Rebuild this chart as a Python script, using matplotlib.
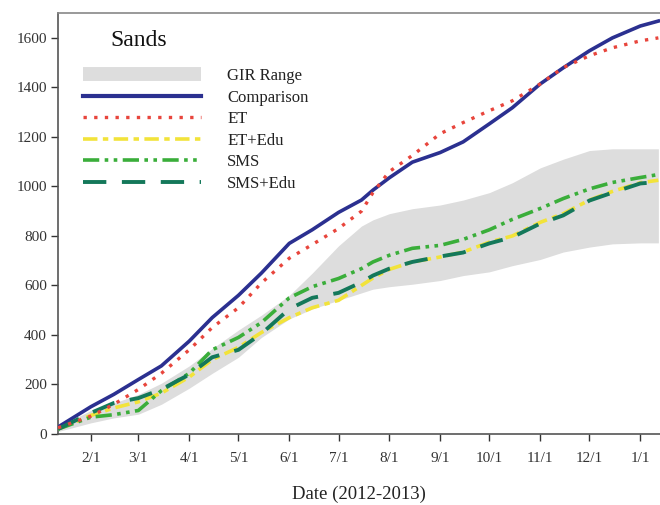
import matplotlib
matplotlib.use("Agg")
import matplotlib.pyplot as plt
import matplotlib.dates as mdates
from matplotlib.lines import Line2D
from matplotlib.ticker import FuncFormatter
import datetime as dt

plt.rcParams['font.family'] = ['Liberation Serif', 'DejaVu Serif']

dates = ["2012-01-12", "2012-02-01", "2012-02-15", "2012-03-01", "2012-03-15",
         "2012-04-01", "2012-04-15", "2012-05-01", "2012-05-15", "2012-06-01",
         "2012-06-15", "2012-07-01", "2012-07-15", "2012-07-22", "2012-08-01",
         "2012-08-15", "2012-09-01", "2012-09-15", "2012-10-01", "2012-10-15",
         "2012-11-01", "2012-11-15", "2012-12-01", "2012-12-15", "2013-01-01",
         "2013-01-12"]

gir_low  = [10, 45, 65, 80, 120, 185, 245, 310, 390, 465, 505, 540, 570, 585, 595,
            605, 620, 640, 655, 680, 705, 735, 755, 768, 772, 772]
gir_high = [30, 95, 125, 160, 205, 275, 345, 420, 480, 560, 650, 760, 840, 865, 890,
            910, 925, 945, 975, 1015, 1075, 1110, 1145, 1152, 1152, 1152]
comparison = [28, 110, 160, 220, 275, 375, 470, 560, 650, 770, 825, 895, 945, 985, 1035,
              1098, 1137, 1180, 1253, 1318, 1414, 1479, 1548, 1600, 1648, 1668]
et = [25, 72, 120, 180, 245, 340, 430, 510, 610, 710, 765, 830, 900, 975, 1060,
      1125, 1213, 1258, 1306, 1346, 1414, 1480, 1528, 1560, 1588, 1600]
et_edu = [20, 75, 105, 130, 165, 230, 300, 350, 410, 470, 510, 540, 600, 630, 665,
          695, 715, 735, 775, 800, 855, 890, 945, 980, 1015, 1025]
sms = [20, 68, 78, 95, 175, 245, 340, 390, 450, 550, 595, 628, 668, 695, 722,
       750, 762, 786, 825, 867, 911, 951, 990, 1016, 1036, 1048]
sms_edu = [20, 85, 125, 145, 180, 240, 310, 340, 405, 505, 550, 570, 613, 640, 668,
           695, 717, 733, 770, 795, 850, 883, 943, 975, 1012, 1018]

tick_dates = ["2012-02-01", "2012-03-01", "2012-04-01", "2012-05-01", "2012-06-01",
              "2012-07-01", "2012-08-01", "2012-09-01", "2012-10-01", "2012-11-01",
              "2012-12-01", "2013-01-01"]

x = [dt.datetime.strptime(d, "%Y-%m-%d") for d in dates]
xt = [dt.datetime.strptime(d, "%Y-%m-%d") for d in tick_dates]

fig = plt.figure(figsize=(6.6, 5.05), dpi=100)
ax = fig.add_axes([0.0879, 0.1406, 0.9121, 0.8334])

c_gray = '#dddddd'
c_blue = '#2b3090'
c_red = '#e8453c'
c_yel = '#f2e33a'
c_green = '#3aae3a'
c_teal = '#14785a'

ls_et = (0, (1, 2.2))
ls_etedu = (0, (4, 1.5, 1.5, 1.5))
ls_sms = (0, (4.5, 1.5, 1, 1.5, 1, 1.5))
ls_smsedu = (0, (6, 4))

ax.fill_between(x, gir_low, gir_high, color=c_gray, lw=0, zorder=1)
ax.plot(x, comparison, color=c_blue, lw=2.6, zorder=3)
ax.plot(x, et, color=c_red, lw=2.4, linestyle=ls_et, zorder=4)
ax.plot(x, et_edu, color=c_yel, lw=2.6, linestyle=ls_etedu, zorder=3)
ax.plot(x, sms, color=c_green, lw=2.6, linestyle=ls_sms, zorder=3)
ax.plot(x, sms_edu, color=c_teal, lw=2.8, linestyle=ls_smsedu, zorder=3)

ax.set_xlim(x[0], x[-1] + dt.timedelta(days=1))
ax.set_ylim(0, 1700)
ax.set_xticks(xt)
ax.xaxis.set_major_formatter(FuncFormatter(
    lambda v, p: f"{mdates.num2date(v).month}/{mdates.num2date(v).day}"))
ax.set_yticks(range(0, 1700, 200))
ax.tick_params(axis='both', direction='out', length=5, width=1, labelsize=11,
               colors='#333333')
ax.tick_params(axis='x', pad=8)
ax.tick_params(axis='y', pad=3)
for s in ['left', 'bottom']:
    ax.spines[s].set_color('#555555')
    ax.spines[s].set_linewidth(1.2)
ax.spines['right'].set_visible(False)
ax.spines['top'].set_color('#888888')
ax.spines['top'].set_linewidth(1.2)

ax.set_xlabel("Date (2012-2013)", fontsize=13.5, color='#222222', labelpad=15)

ax.text(0.087, 0.935, "Sands", transform=ax.transAxes, fontsize=17,
        color='#111111', ha='left', va='center')

handles = [
    Line2D([], [], color=c_gray, lw=10, solid_capstyle='butt'),
    Line2D([], [], color=c_blue, lw=3),
    Line2D([], [], color=c_red, lw=2.4, linestyle=ls_et),
    Line2D([], [], color=c_yel, lw=2.6, linestyle=ls_etedu),
    Line2D([], [], color=c_green, lw=2.6, linestyle=ls_sms),
    Line2D([], [], color=c_teal, lw=2.8, linestyle=ls_smsedu),
]
labels = ["GIR Range", "Comparison", "ET", "ET+Edu", "SMS", "SMS+Edu"]
leg = ax.legend(handles, labels, loc='upper left', bbox_to_anchor=(0.0417, 0.869),
                frameon=False, fontsize=12, handlelength=7.1, handletextpad=1.55,
                labelspacing=0.33, borderaxespad=0, borderpad=0)
for t in leg.get_texts():
    t.set_color('#222222')

fig.savefig("out.png", dpi=100)
